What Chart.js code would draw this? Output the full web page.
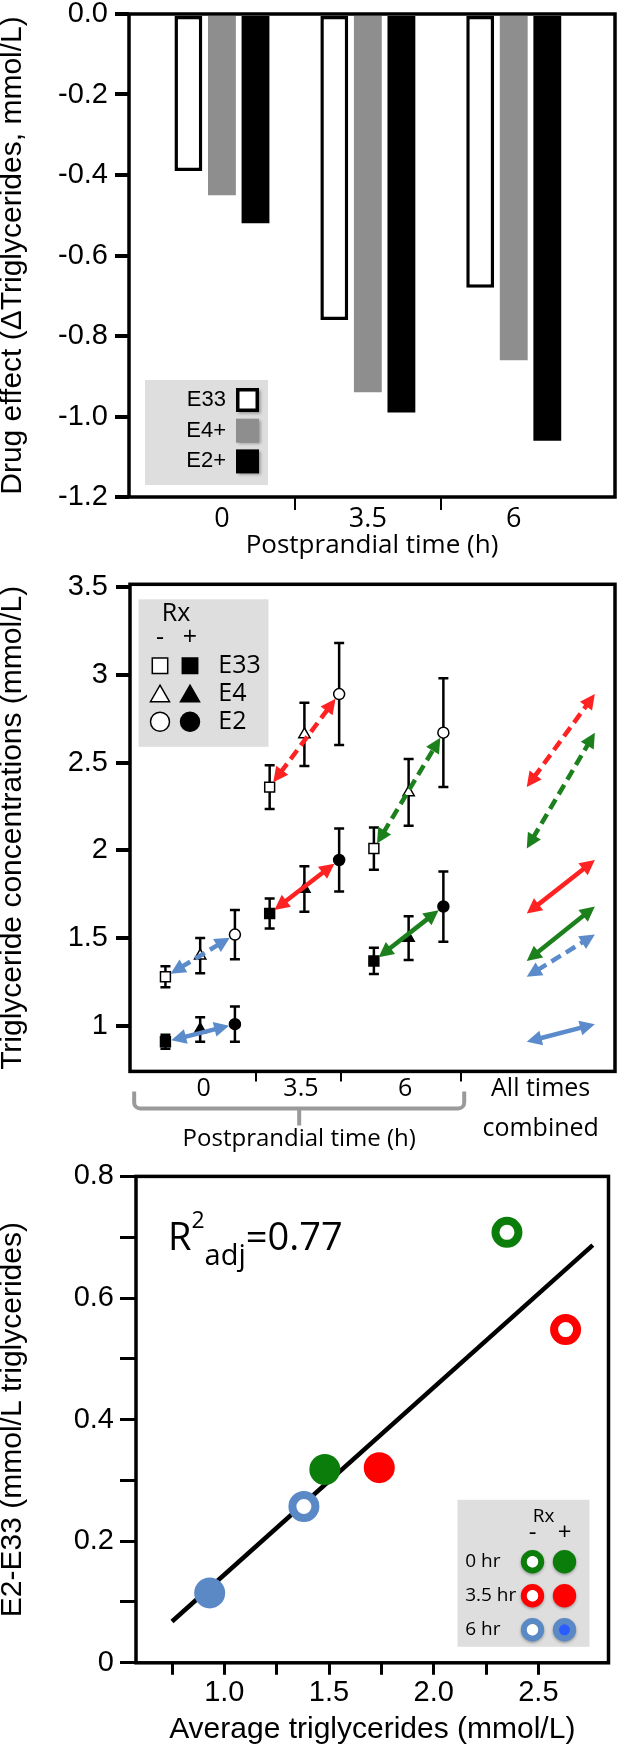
<!DOCTYPE html>
<html>
<head>
<meta charset="utf-8">
<script src="https://cdn.jsdelivr.net/npm/chart.js@4.4.1/dist/chart.umd.min.js"></script>
<style>
  body { margin: 0; background: #fff; }
  canvas { position: absolute; left: 0; }
</style>
</head>
<body>
<canvas id="effectChart" width="628" height="560" style="top:0"></canvas>
<canvas id="levelChart" width="628" height="600" style="top:560px"></canvas>
<canvas id="diffChart" width="628" height="593" style="top:1155px"></canvas>
<script>
// ---- panel A: drug effect per time point
const timeLabels = ['0', '3.5', '6'];
const e33Effect = [-0.39, -0.76, -0.68];
const e4Effect = [-0.45, -0.94, -0.86];
const e2Effect = [-0.52, -0.99, -1.06];
const effectTicks = [-1.2, -1.0, -0.8, -0.6, -0.4, -0.2, 0];

// ---- panel B: triglyceride levels, - and + Rx (mean and SE)
const genotypes = ['E33', 'E4', 'E2'];
const e33Minus = [1.28, 2.36, 2.01];
const e33MinusErr = [0.06, 0.125, 0.12];
const e4Minus = [1.40, 2.66, 2.33];
const e4MinusErr = [0.10, 0.18, 0.19];
const e2Minus = [1.52, 2.89, 2.67];
const e2MinusErr = [0.14, 0.29, 0.31];
const e33Plus = [0.91, 1.64, 1.37];
const e33PlusErr = [0.04, 0.085, 0.075];
const e4Plus = [0.98, 1.78, 1.50];
const e4PlusErr = [0.07, 0.13, 0.125];
const e2Plus = [1.01, 1.945, 1.68];
const e2PlusErr = [0.10, 0.18, 0.20];
const slotE33 = [0, 3, 6];
const slotE4 = [1, 4, 7];
const slotE2 = [2, 5, 8];
const combinedSpan = [10.4, 12.36];
const levelLabels = ['0', '3.5', '6', ['All times', 'combined']];
const levelLabelPos = [1.1, 3.9, 6.9, 10.8];
const levelMarkPos = [2.6, 5.05, 8.5];
const levelTicks = [1, 1.5, 2, 2.5, 3, 3.5];
const bracketSpan = [-0.9, 8.6];

// ---- panel C: E2-E33 difference vs average triglycerides
const hourLabels = ['0 hr', '3.5 hr', '6 hr'];
const minusAvg = [2.35, 2.63, 1.38];
const minusDiff = [0.708, 0.548, 0.257];
const plusAvg = [1.48, 1.74, 0.93];
const plusDiff = [0.318, 0.321, 0.115];
const fitAvg = [0.75, 2.76];
const fitDiff = [0.068, 0.687];
const avgTicks = [0.75, 1, 1.25, 1.5, 1.75, 2, 2.25, 2.5];
const diffTicks = [0, 0.1, 0.2, 0.3, 0.4, 0.5, 0.6, 0.7, 0.8];

const SANS = "'Liberation Sans', Arial, sans-serif";
const HUM = "'Open Sans', sans-serif";
const hourColors = ['#0b7d0b', '#fe0000', '#5b89c6'];
const groupColors = ['#5b8bcb', '#fe2222', '#1c801c'];

function fixBox(size) {
  return function (scale) {
    if (scale.isHorizontal()) {
      scale.height = size; scale.paddingLeft = 0; scale.paddingRight = 0;
    } else {
      scale.width = size; scale.paddingTop = 0; scale.paddingBottom = 0;
    }
  };
}
const setTicks = list => scale => { scale.ticks = list.map(v => ({ value: v })); };

const frame = {
  id: 'frame',
  afterDraw(chart) {
    const { ctx, chartArea: a } = chart;
    ctx.save();
    ctx.lineWidth = 3.5;
    ctx.strokeStyle = '#000';
    ctx.strokeRect(a.left, a.top, a.right - a.left, a.bottom - a.top);
    ctx.restore();
  }
};

// legend for the bars
const barLegend = {
  id: 'barLegend',
  afterDraw(chart) {
    const { ctx, chartArea: a } = chart;
    const bx = a.left + 16, by = a.bottom - 117;
    ctx.save();
    ctx.fillStyle = '#dedede';
    ctx.fillRect(bx, by, 123, 105);
    ctx.font = `22px ${SANS}`;
    ctx.textAlign = 'right';
    ctx.textBaseline = 'middle';
    chart.data.datasets.forEach((ds, i) => {
      const cy = by + 20 + i * 30.7;
      ctx.fillStyle = '#000';
      ctx.fillText(ds.label, bx + 81, cy);
      ctx.save();
      ctx.shadowColor = 'rgba(0,0,0,0.35)';
      ctx.shadowBlur = 3;
      ctx.shadowOffsetX = 1.5;
      ctx.shadowOffsetY = 1.5;
      ctx.fillStyle = ds.backgroundColor;
      ctx.fillRect(bx + 91, cy - 12, 23, 24);
      ctx.restore();
      if (ds.borderWidth) {
        ctx.lineWidth = 3.5;
        ctx.strokeStyle = '#000';
        ctx.strokeRect(bx + 92.75, cy - 10.25, 19.5, 20.5);
      }
    });
    ctx.restore();
  }
};

function drawMarker(ctx, style, x, y, r, filled) {
  ctx.beginPath();
  if (style === 'rect') ctx.rect(x - r, y - r, 2 * r, 2 * r);
  else if (style === 'triangle') {
    ctx.moveTo(x, y - r);
    ctx.lineTo(x + r * 0.866, y + r * 0.5);
    ctx.lineTo(x - r * 0.866, y + r * 0.5);
    ctx.closePath();
  } else ctx.arc(x, y, r, 0, Math.PI * 2);
  ctx.fillStyle = filled ? '#000' : '#fff';
  ctx.fill();
  ctx.lineWidth = 1.5;
  ctx.strokeStyle = '#000';
  ctx.stroke();
}

const errorBars = {
  id: 'errorBars',
  beforeDatasetsDraw(chart) {
    const { ctx, scales: { x, y } } = chart;
    ctx.save();
    ctx.strokeStyle = '#000';
    ctx.lineWidth = 2.5;
    chart.data.datasets.forEach(ds => {
      if (!ds.err) return;
      ds.data.forEach((p, i) => {
        const px = x.getPixelForValue(p.x);
        const top = y.getPixelForValue(p.y + ds.err[i]);
        const bot = y.getPixelForValue(p.y - ds.err[i]);
        ctx.beginPath();
        ctx.moveTo(px, top); ctx.lineTo(px, bot);
        ctx.moveTo(px - 5, top); ctx.lineTo(px + 5, top);
        ctx.moveTo(px - 5, bot); ctx.lineTo(px + 5, bot);
        ctx.stroke();
      });
    });
    ctx.restore();
  }
};

function drawArrow(ctx, x1, y1, x2, y2, color, dashed, inset) {
  const a = Math.atan2(y2 - y1, x2 - x1), c = Math.cos(a), s = Math.sin(a);
  x1 += c * inset; y1 += s * inset; x2 -= c * inset; y2 -= s * inset;
  const L = 15, W = 7.5;
  ctx.save();
  ctx.strokeStyle = color;
  ctx.fillStyle = color;
  ctx.lineWidth = 4.5;
  ctx.setLineDash(dashed ? [11, 6] : []);
  ctx.beginPath();
  ctx.moveTo(x1 + c * L * 0.8, y1 + s * L * 0.8);
  ctx.lineTo(x2 - c * L * 0.8, y2 - s * L * 0.8);
  ctx.stroke();
  ctx.setLineDash([]);
  [[x1, y1, -1], [x2, y2, 1]].forEach(([tx, ty, d]) => {
    const bx = tx - d * c * L, by = ty - d * s * L;
    ctx.beginPath();
    ctx.moveTo(tx, ty);
    ctx.lineTo(bx - s * W, by + c * W);
    ctx.lineTo(bx + s * W, by - c * W);
    ctx.closePath();
    ctx.fill();
  });
  ctx.restore();
}

const trendArrows = {
  id: 'trendArrows',
  afterDatasetsDraw(chart) {
    const { ctx, scales: { x, y } } = chart;
    timeLabels.forEach((t, g) => {
      [[e33Minus, e2Minus, true], [e33Plus, e2Plus, false]].forEach(([from, to, dashed]) => {
        drawArrow(ctx, x.getPixelForValue(slotE33[g]), y.getPixelForValue(from[g]),
          x.getPixelForValue(slotE2[g]), y.getPixelForValue(to[g]), groupColors[g], dashed, 6);
        drawArrow(ctx, x.getPixelForValue(combinedSpan[0]), y.getPixelForValue(from[g]),
          x.getPixelForValue(combinedSpan[1]), y.getPixelForValue(to[g]), groupColors[g], dashed, 0);
      });
    });
  }
};

const levelLegend = {
  id: 'levelLegend',
  afterDraw(chart) {
    const { ctx, chartArea: a } = chart;
    const bx = a.left + 8.5, by = a.top + 15;
    const styles = ['rect', 'triangle', 'circle'];
    const sizes = [7.7, 11, 9.5];
    ctx.save();
    ctx.fillStyle = '#dedede';
    ctx.fillRect(bx, by, 130, 147.5);
    ctx.fillStyle = '#000';
    ctx.font = `25px ${HUM}`;
    ctx.textAlign = 'center';
    ctx.textBaseline = 'middle';
    ctx.fillText('Rx', bx + 37.5, by + 14.7);
    ctx.fillText('-', bx + 21.5, by + 38.7);
    ctx.fillText('+', bx + 51.5, by + 38.7);
    genotypes.forEach((g, i) => {
      const cy = by + 66.4 + i * 28;
      const dy = styles[i] === 'triangle' ? 2.5 : 0;
      drawMarker(ctx, styles[i], bx + 21.5, cy + dy, sizes[i], false);
      drawMarker(ctx, styles[i], bx + 51.5, cy + dy, sizes[i], true);
      ctx.fillStyle = '#000';
      ctx.textAlign = 'left';
      ctx.fillText(g, bx + 79.8, cy);
    });
    ctx.restore();
  }
};

const timeBracket = {
  id: 'timeBracket',
  afterDraw(chart) {
    const { ctx, chartArea: a, scales: { x } } = chart;
    const x1 = x.getPixelForValue(bracketSpan[0]);
    const x2 = x.getPixelForValue(bracketSpan[1]);
    const xm = (x1 + x2) / 2;
    const yTop = a.bottom + 20, yBar = a.bottom + 37, r = 6;
    ctx.save();
    ctx.strokeStyle = '#9a9a9a';
    ctx.lineWidth = 4;
    ctx.beginPath();
    ctx.moveTo(x1, yTop);
    ctx.arcTo(x1, yBar, x1 + r, yBar, r);
    ctx.arcTo(x2, yBar, x2, yTop, r);
    ctx.lineTo(x2, yTop);
    ctx.moveTo(xm, yBar);
    ctx.lineTo(xm, yBar + 17);
    ctx.stroke();
    ctx.fillStyle = '#000';
    ctx.font = `24px ${HUM}`;
    ctx.textAlign = 'center';
    ctx.textBaseline = 'middle';
    ctx.fillText('Postprandial time (h)', xm, a.bottom + 68);
    ctx.restore();
  }
};

const rSquared = {
  id: 'rSquared',
  afterDraw(chart) {
    const { ctx, chartArea: a } = chart;
    let x = a.left + 32;
    const base = a.top + 73.6;
    ctx.save();
    ctx.fillStyle = '#000';
    ctx.textBaseline = 'alphabetic';
    ctx.font = `38px ${HUM}`;
    ctx.fillText('R', x, base);
    x += ctx.measureText('R').width;
    ctx.font = `23px ${HUM}`;
    ctx.fillText('2', x, a.top + 51.6);
    x += ctx.measureText('2').width;
    ctx.font = `29px ${HUM}`;
    ctx.fillText('adj', x, a.top + 89);
    x += ctx.measureText('adj').width;
    ctx.font = `38px ${HUM}`;
    ctx.fillText('=0.77', x, base);
    ctx.restore();
  }
};

const diffLegend = {
  id: 'diffLegend',
  afterDraw(chart) {
    const { ctx, chartArea: a } = chart;
    const bx = a.right - 151, by = a.bottom - 163;
    ctx.save();
    ctx.fillStyle = '#dedede';
    ctx.fillRect(bx, by, 132, 147);
    ctx.fillStyle = '#000';
    ctx.textBaseline = 'middle';
    ctx.textAlign = 'center';
    ctx.font = `19px ${HUM}`;
    ctx.fillText('Rx', bx + 86, by + 17);
    ctx.font = `24px ${HUM}`;
    ctx.fillText('-', bx + 75, by + 33);
    ctx.fillText('+', bx + 107, by + 33);
    ctx.font = `19px ${HUM}`;
    hourLabels.forEach((h, i) => {
      const cy = by + 62 + i * 34;
      ctx.fillStyle = '#000';
      ctx.textAlign = 'left';
      ctx.fillText(h, bx + 7.7, cy);
      ctx.save();
      ctx.shadowColor = 'rgba(0,0,0,0.3)';
      ctx.shadowBlur = 3;
      ctx.shadowOffsetY = 1.5;
      ctx.beginPath();
      ctx.arc(bx + 107, cy, 11.7, 0, Math.PI * 2);
      ctx.fillStyle = hourColors[i];
      ctx.fill();
      ctx.beginPath();
      ctx.arc(bx + 75, cy, 8.7, 0, Math.PI * 2);
      ctx.lineWidth = 6;
      ctx.strokeStyle = hourColors[i];
      ctx.stroke();
      ctx.restore();
      ctx.beginPath();
      ctx.arc(bx + 75, cy, 5.7, 0, Math.PI * 2);
      ctx.fillStyle = '#fff';
      ctx.fill();
      if (i === 2) {
        ctx.beginPath();
        ctx.arc(bx + 107, cy, 5.5, 0, Math.PI * 2);
        ctx.fillStyle = '#2a5cff';
        ctx.fill();
      }
    });
    ctx.restore();
  }
};

const noInteraction = { legend: { display: false }, tooltip: { enabled: false } };

// ---------- Panel A
const toPoints = vals => vals.map((y, i) => ({ x: i, y }));
const barOpts = { categoryPercentage: 1.38, barPercentage: 0.83 };
new Chart(document.getElementById('effectChart'), {
  type: 'bar',
  data: {
    datasets: [
      { label: 'E33', data: toPoints(e33Effect), backgroundColor: '#fff', borderColor: '#000', borderWidth: 3.5, borderSkipped: false, ...barOpts },
      { label: 'E4+', data: toPoints(e4Effect), backgroundColor: '#8e8e8e', borderWidth: 0, ...barOpts },
      { label: 'E2+', data: toPoints(e2Effect), backgroundColor: '#000', borderWidth: 0, ...barOpts }
    ]
  },
  options: {
    responsive: false,
    animation: false,
    events: [],
    layout: { padding: { top: 14, right: 13, left: 0, bottom: 0 } },
    plugins: noInteraction,
    scales: {
      x: {
        type: 'linear', min: -0.637, max: 2.694, offset: false,
        afterBuildTicks: setTicks([0, 0.5, 1, 1.5, 2]),
        afterFit: fixBox(63),
        ticks: {
          autoSkip: false, maxRotation: 0, padding: -4.5, color: '#000',
          font: { family: HUM, size: 27, lineHeight: 1 },
          callback: v => Number.isInteger(v) ? timeLabels[v] : ''
        },
        grid: {
          offset: false, drawOnChartArea: false, tickLength: 13, lineWidth: 2,
          color: c => (c.tick && !Number.isInteger(c.tick.value)) ? '#000' : 'rgba(0,0,0,0)'
        },
        border: { display: false },
        title: {
          display: true, text: 'Postprandial time (h)', color: '#000',
          font: { family: HUM, size: 26, lineHeight: 1 }, padding: { top: 0, bottom: 1 }
        }
      },
      y: {
        min: -1.2, max: 0,
        afterBuildTicks: setTicks(effectTicks),
        afterFit: fixBox(129),
        ticks: { padding: 7, color: '#000', font: { family: SANS, size: 29 }, callback: v => v.toFixed(1) },
        grid: { drawOnChartArea: false, tickLength: 14, lineWidth: 4, color: '#000' },
        border: { display: false },
        title: {
          display: true, text: 'Drug effect (\u0394Triglycerides, mmol/L)', color: '#000',
          font: { family: SANS, size: 30, lineHeight: 0.8 }, padding: { top: 1, bottom: 0 }
        }
      }
    }
  },
  plugins: [frame, barLegend]
});

// ---------- Panel B
const pts = (slots, vals) => vals.map((y, i) => ({ x: slots[i], y }));
function levelSet(label, slots, vals, err, style, filled) {
  return {
    label, data: pts(slots, vals), err,
    pointStyle: style,
    pointRadius: style === 'circle' ? 5.5 : (style === 'rect' ? 7 : 6.5),
    pointBackgroundColor: filled ? '#000' : '#fff',
    pointBorderColor: '#000',
    pointBorderWidth: 1.5
  };
}
new Chart(document.getElementById('levelChart'), {
  type: 'scatter',
  data: {
    datasets: [
      levelSet('E33 -', slotE33, e33Minus, e33MinusErr, 'rect', false),
      levelSet('E4 -', slotE4, e4Minus, e4MinusErr, 'triangle', false),
      levelSet('E2 -', slotE2, e2Minus, e2MinusErr, 'circle', false),
      levelSet('E33 +', slotE33, e33Plus, e33PlusErr, 'rect', true),
      levelSet('E4 +', slotE4, e4Plus, e4PlusErr, 'triangle', true),
      levelSet('E2 +', slotE2, e2Plus, e2PlusErr, 'circle', true)
    ]
  },
  options: {
    responsive: false,
    animation: false,
    events: [],
    layout: { padding: { top: 24.3, right: 13, left: 0, bottom: 0 } },
    plugins: noInteraction,
    scales: {
      x: {
        type: 'linear', min: -1.02, max: 12.94,
        afterBuildTicks: setTicks(levelLabelPos.concat(levelMarkPos).sort((p, q) => p - q)),
        afterFit: fixBox(88.6),
        ticks: {
          autoSkip: false, maxRotation: 0, padding: -12.8, color: '#000',
          font: { family: HUM, size: 25, lineHeight: 1.6 },
          callback: v => { const i = levelLabelPos.indexOf(v); return i < 0 ? '' : levelLabels[i]; }
        },
        grid: {
          drawOnChartArea: false, tickLength: 10, lineWidth: 2,
          color: c => (c.tick && levelMarkPos.includes(c.tick.value)) ? '#000' : 'rgba(0,0,0,0)'
        },
        border: { display: false }
      },
      y: {
        min: 0.741, max: 3.515,
        afterBuildTicks: setTicks(levelTicks),
        afterFit: fixBox(130),
        ticks: { padding: 8, color: '#000', font: { family: SANS, size: 29 }, callback: v => String(v) },
        grid: { drawOnChartArea: false, tickLength: 14, lineWidth: 4, color: '#000' },
        border: { display: false },
        title: {
          display: true, text: 'Triglyceride concentrations (mmol/L)', color: '#000',
          font: { family: SANS, size: 30, lineHeight: 0.8 }, padding: { top: 1, bottom: 0 }
        }
      }
    }
  },
  plugins: [errorBars, trendArrows, frame, levelLegend, timeBracket]
});

// ---------- Panel C
const xy = (xs, ys) => xs.map((x, i) => ({ x, y: ys[i] }));
new Chart(document.getElementById('diffChart'), {
  type: 'scatter',
  data: {
    datasets: [
      {
        type: 'line', label: 'fit', data: xy(fitAvg, fitDiff), order: 2,
        borderColor: '#000', borderWidth: 4.5, pointRadius: 0, fill: false
      },
      {
        label: 'Rx -', data: xy(minusAvg, minusDiff), order: 1,
        pointRadius: 11.5, pointBorderWidth: 8,
        pointBackgroundColor: '#fff', pointBorderColor: hourColors
      },
      {
        label: 'Rx +', data: xy(plusAvg, plusDiff), order: 1,
        pointRadius: 15.5, pointBorderWidth: 0,
        pointBackgroundColor: hourColors, pointBorderColor: hourColors
      }
    ]
  },
  options: {
    responsive: false,
    animation: false,
    events: [],
    layout: { padding: { top: 21.4, right: 7.3, left: 0, bottom: 0 } },
    plugins: noInteraction,
    scales: {
      x: {
        type: 'linear', min: 0.578, max: 2.835,
        afterBuildTicks: setTicks(avgTicks),
        afterFit: fixBox(85.2),
        ticks: {
          autoSkip: false, maxRotation: 0, padding: 3.7, color: '#000',
          font: { family: SANS, size: 29, lineHeight: 1 },
          callback: v => (v * 2) % 1 === 0 ? v.toFixed(1) : ''
        },
        grid: { drawOnChartArea: false, tickLength: 12, lineWidth: 3, color: '#000' },
        border: { display: false },
        title: {
          display: true, text: 'Average triglycerides (mmol/L)', color: '#000',
          font: { family: SANS, size: 30, lineHeight: 1 }, padding: { top: 0, bottom: 3 }
        }
      },
      y: {
        min: 0, max: 0.8,
        afterBuildTicks: setTicks(diffTicks),
        afterFit: fixBox(136),
        ticks: {
          autoSkip: false, padding: 6, color: '#000', font: { family: SANS, size: 29 },
          callback: v => Math.round(v * 10) % 2 === 0 ? (v === 0 ? '0' : v.toFixed(1)) : ''
        },
        grid: { drawOnChartArea: false, tickLength: 16, lineWidth: 3, color: '#000' },
        border: { display: false },
        title: {
          display: true, text: 'E2-E33 (mmol/L triglycerides)', color: '#000',
          font: { family: SANS, size: 30, lineHeight: 0.8 }, padding: { top: 1, bottom: 0 }
        }
      }
    }
  },
  plugins: [frame, rSquared, diffLegend]
});
</script>
</body>
</html>
